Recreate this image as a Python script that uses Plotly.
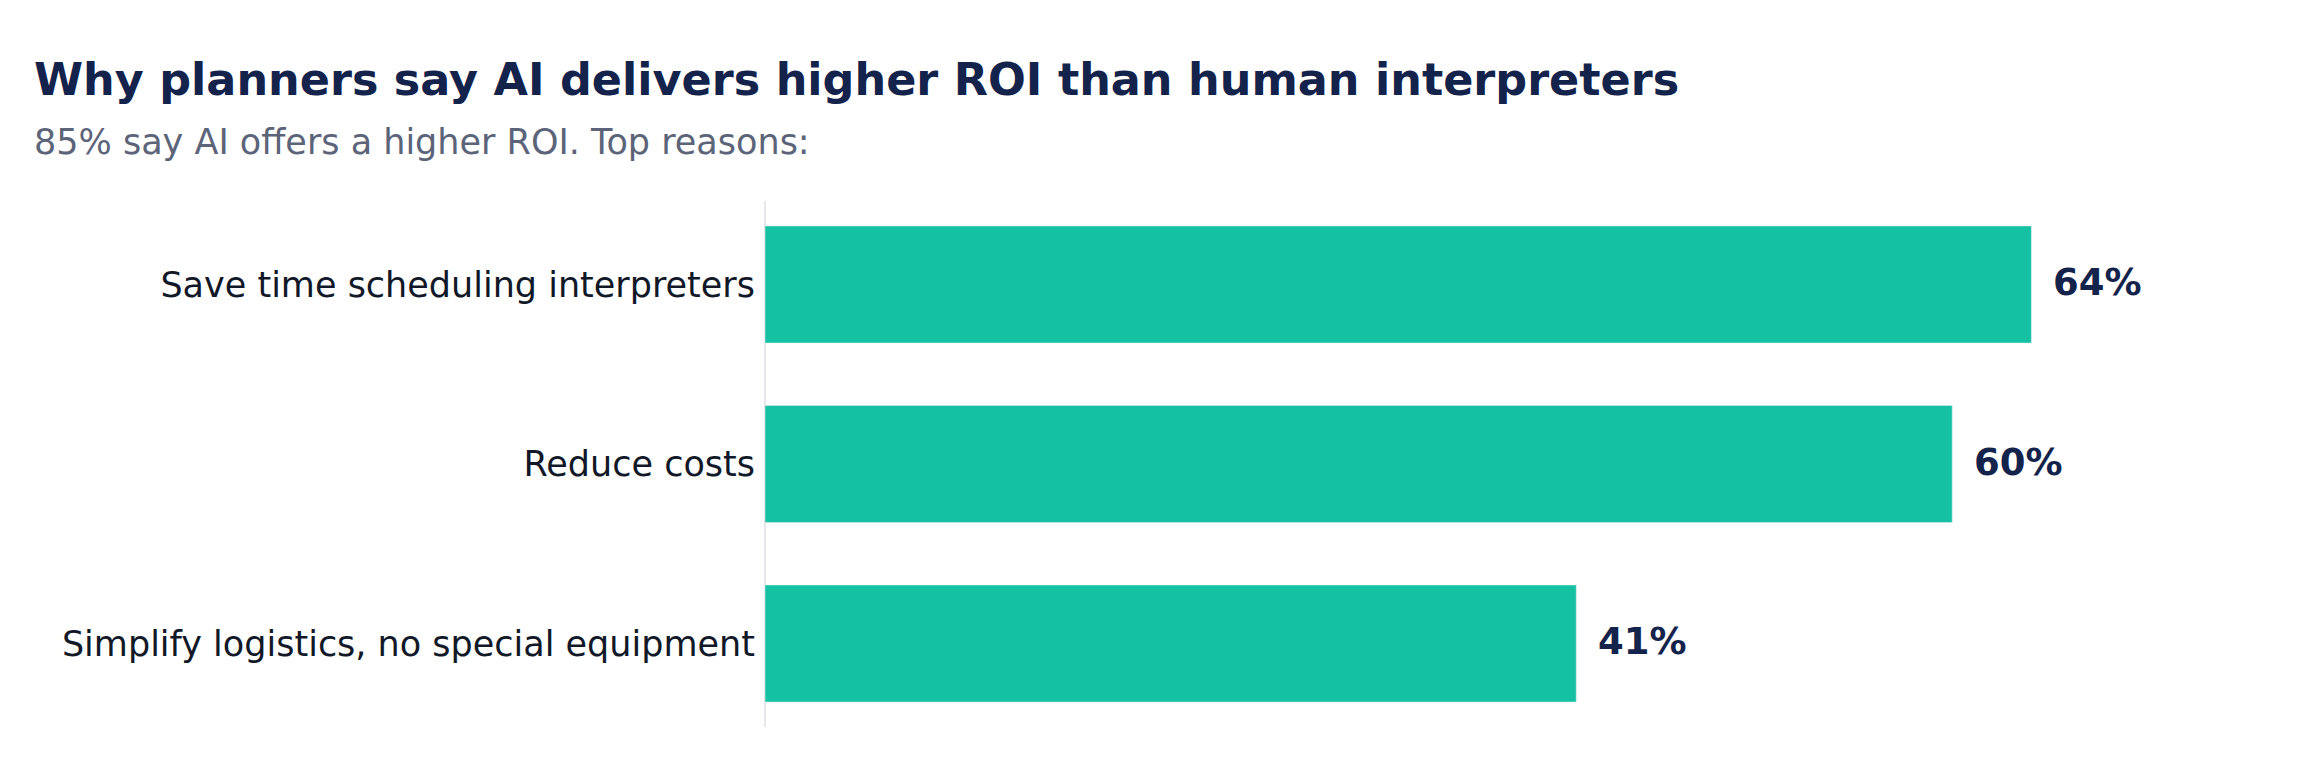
import plotly.graph_objects as go

# --- Data ---
reasons = [
    "Save time scheduling interpreters",
    "Reduce costs",
    "Simplify logistics, no special equipment",
]
shares = [64, 60, 41]
share_labels = ["64%", "60%", "41%"]

TITLE = "Why planners say AI delivers higher ROI than human interpreters"
SUBTITLE = "85% say AI offers a higher ROI. Top reasons:"

NAVY = "#13234b"
TEAL = "#14c2a3"
FONT = "DejaVu Sans"

fig = go.Figure(
    go.Bar(
        x=shares,
        y=reasons,
        orientation="h",
        marker_color=TEAL,
        width=0.652,
        hoverinfo="skip",
    )
)

# value labels just right of each bar
for reason, value, label in zip(reasons, shares, share_labels):
    fig.add_annotation(
        x=value, y=reason, text=f"<b>{label}</b>",
        xanchor="left", yanchor="middle", xshift=20, yshift=2, showarrow=False,
        font=dict(family=FONT, size=37, color=NAVY),
    )

# title + subtitle, placed left of the plot area
fig.add_annotation(
    xref="paper", yref="paper", x=-0.526, y=1.2305,
    xanchor="left", yanchor="middle", showarrow=False,
    text=f"<b>{TITLE}</b>",
    font=dict(family=FONT, size=44.5, color=NAVY),
)
fig.add_annotation(
    xref="paper", yref="paper", x=-0.526, y=1.1124,
    xanchor="left", yanchor="middle", showarrow=False,
    text=SUBTITLE,
    font=dict(family=FONT, size=35, color="#5b6478"),
)

fig.update_layout(
    width=2320, height=778,
    margin=dict(l=757, r=170, t=193, b=59),
    paper_bgcolor="white", plot_bgcolor="white",
    showlegend=False,
    font=dict(family=FONT),
)
fig.update_xaxes(
    range=[0, 70.4], showgrid=False, showticklabels=False,
    zeroline=True, zerolinecolor="#e5e7eb", zerolinewidth=2,
)
fig.update_yaxes(
    type="category", range=[2.465, -0.465], showgrid=False,
    ticks="", ticklabelstandoff=9,
    tickfont=dict(family=FONT, size=35, color="#111827"),
)

fig.write_html("out.html")
